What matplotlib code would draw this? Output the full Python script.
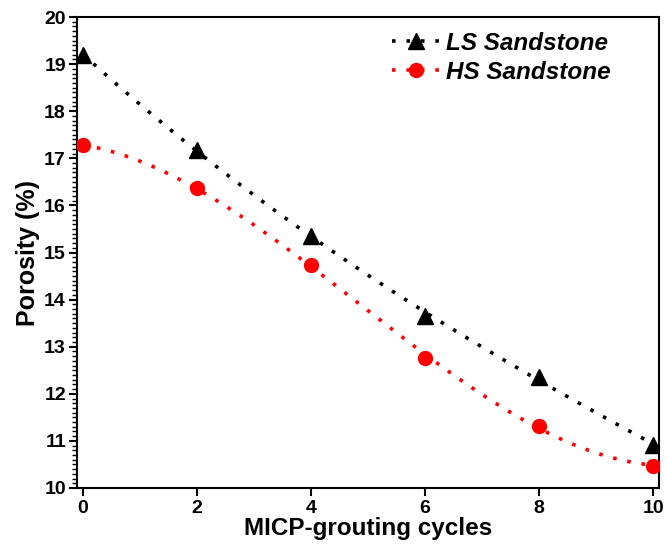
import numpy as np
import matplotlib
matplotlib.use("Agg")
import matplotlib.pyplot as plt
from matplotlib.ticker import MultipleLocator

# data
cycles = [0, 2, 4, 6, 8, 10]
ls_porosity = [19.20, 17.18, 15.36, 13.65, 12.36, 10.91]
hs_porosity = [17.28, 16.36, 14.73, 12.77, 11.32, 10.47]
series_labels = ["LS Sandstone", "HS Sandstone"]

plt.rcParams['font.family'] = ['Liberation Sans', 'DejaVu Sans']
plt.rcParams['font.weight'] = 'bold'

fig = plt.figure(figsize=(6.67, 5.45), dpi=100)
ax = fig.add_axes([77 / 667, 1 - 488 / 545, (659 - 77) / 667, (488 - 17) / 545])

DOT = (0, (1, 3))

# cubic trend lines through each series
xs = np.linspace(cycles[0], cycles[-1], 200)
ls_fit = np.polyval(np.polyfit(cycles, ls_porosity, 3), xs)
hs_fit = np.polyval(np.polyfit(cycles, hs_porosity, 3), xs)

ax.plot(xs, ls_fit, color="black", linestyle=DOT, linewidth=2.6, zorder=2)
ax.plot(xs, hs_fit, color="red", linestyle=DOT, linewidth=2.6, zorder=2)
ax.plot(cycles, ls_porosity, linestyle="none", marker="^", color="black",
        markersize=11, zorder=3)
ax.plot(cycles, hs_porosity, linestyle="none", marker="o", color="red",
        markersize=10, zorder=3)

# legend handles: dotted line with marker in the middle
h1, = ax.plot([], [], color="black", linestyle=DOT, linewidth=2.6,
              marker="^", markersize=11)
h2, = ax.plot([], [], color="red", linestyle=DOT, linewidth=2.6,
              marker="o", markersize=10)
ax.legend([h1, h2], series_labels, loc="upper left",
          bbox_to_anchor=(0.52, 0.995), frameon=False, borderpad=0,
          handlelength=2.0, handletextpad=0.25, labelspacing=0.25,
          prop={"size": 17.5, "weight": "bold", "style": "italic"})

ax.set_xlim(-0.1, 10.1)
ax.set_ylim(10, 20)
ax.xaxis.set_major_locator(MultipleLocator(2))
ax.yaxis.set_major_locator(MultipleLocator(1))
ax.yaxis.set_minor_locator(MultipleLocator(0.1))

ax.tick_params(axis="both", which="major", direction="out", length=5.5,
               width=1.5, labelsize=14, pad=2.5)
ax.tick_params(axis="x", which="major", pad=3)
ax.tick_params(axis="y", which="minor", direction="out", length=3.5, width=1)
for side in ["left", "bottom", "top", "right"]:
    ax.spines[side].set_linewidth(1.5)

ax.set_xlabel("MICP-grouting cycles", fontsize=17.5, fontweight="bold", labelpad=0)
ax.set_ylabel("Porosity (%)", fontsize=18, fontweight="bold", labelpad=3)

fig.savefig("out.png", dpi=100)
